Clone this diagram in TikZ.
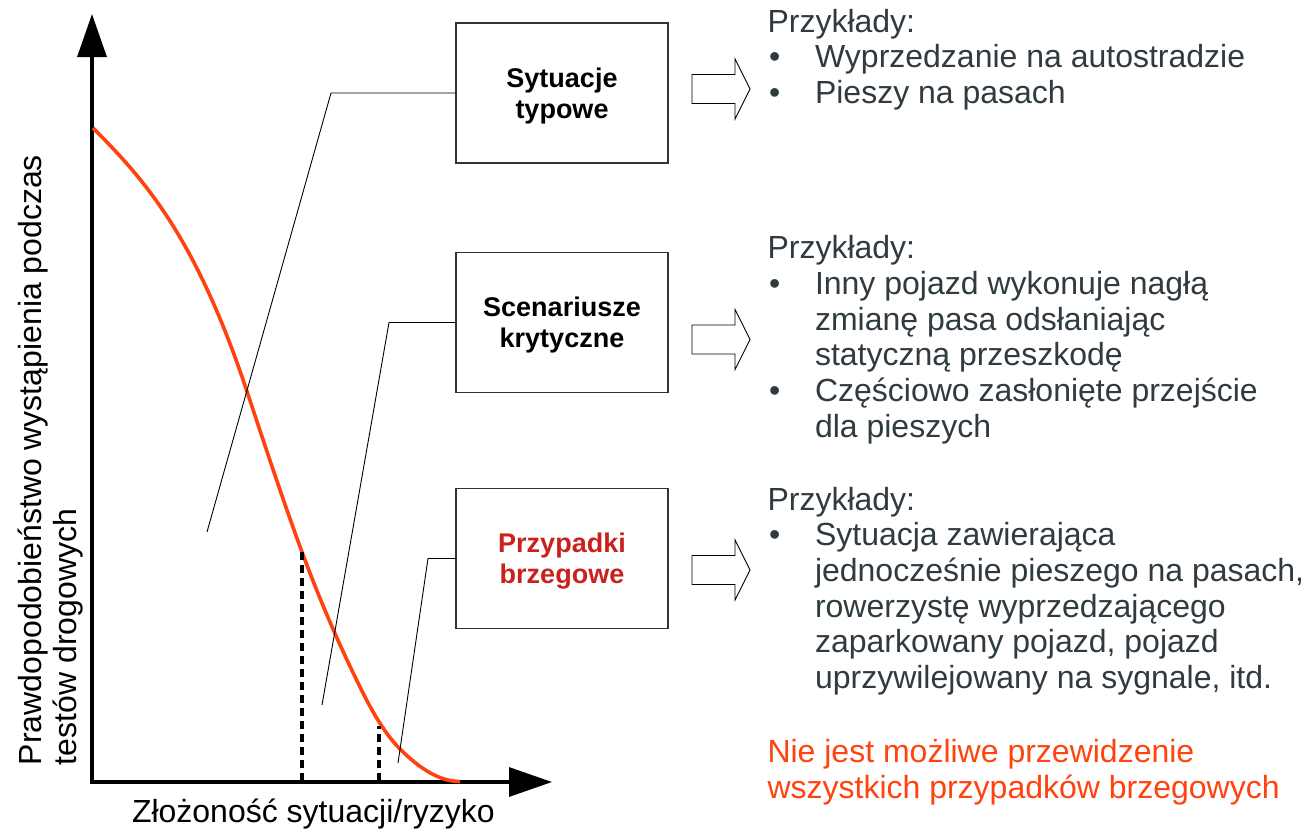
\documentclass[tikz,border=0pt]{standalone}
\usepackage{fontspec}
\setmainfont{Liberation Sans}
\usetikzlibrary{arrows.meta}
\definecolor{txt}{HTML}{2F3B40}
\definecolor{hot}{HTML}{FF420E}
\definecolor{darkred}{HTML}{C9211E}
\definecolor{frame}{HTML}{333333}
\begin{document}
\begin{tikzpicture}[x=1pt,y=-1pt,
  every node/.style={inner sep=0pt,outer sep=0pt},
  axisline/.style={line width=3.2pt,line join=miter,
    {Triangle[length=43pt,width=29pt]}-{Triangle[length=43pt,width=29pt]}},
  riskcurve/.style={hot,line width=3.6pt,line join=round},
  guide/.style={line width=3.3pt,dash pattern=on 8pt off 5pt},
  leader/.style={line width=0.9pt},
  catbox/.style={draw=frame,line width=1.2pt,minimum width=212pt,minimum height=140pt},
  catlabel/.style={align=center,font=\fontsize{27}{31}\selectfont\bfseries},
  body/.style={anchor=base west,text=txt,font=\fontsize{32}{36}\selectfont},
  warn/.style={anchor=base west,text=hot,font=\fontsize{32}{36}\selectfont},
  axlabel/.style={anchor=base west,font=\fontsize{32}{36}\selectfont},
  blockarrow/.pic={\draw[line width=0.9pt,fill=white]
    (0,-14.5) -- (43,-14.5) -- (43,-30) -- (58,0) -- (43,30) -- (43,14.5) -- (0,14.5) -- cycle;}
]
\useasboundingbox (0,0) rectangle (1308,831);

% axes
\coordinate (ytop) at (92,14);
\coordinate (orig) at (92,782);
\coordinate (xend) at (552,782);
\draw[axisline] (ytop) -- (orig) -- (xend);

% axis labels
\node[axlabel] (xlab) at (132,822) {Złożoność sytuacji/ryzyko};
\node[axlabel,rotate=90] (ylab1) at (41,765) {Prawdopodobieństwo wystąpienia podczas};
\node[axlabel,rotate=90] (ylab2) at (76,765) {testów drogowych};

% probability curve, piecewise cubic
\draw[riskcurve] (93,128)
  .. controls (144.17,179.17) and (195.33,236.5) .. (246.5,390)
  .. controls (265,445.5) and (283.5,502.05) .. (302,552)
  .. controls (322.33,606.9) and (342.67,652.33) .. (363,693)
  .. controls (375.33,717.67) and (387.67,736.67) .. (400,749)
  .. controls (420,769) and (440,781.5) .. (460,781.5);

% thresholds
\coordinate (g1top) at (302,552);
\coordinate (g1bot) at (302,781);
\coordinate (g2top) at (379,726);
\coordinate (g2bot) at (379,781);
\draw[guide] (g1bot) -- (g1top);
\draw[guide] (g2bot) -- (g2top);

% categories
\node[catbox] (b1) at (562,93) {};
\node[catbox] (b2) at (562,322.5) {};
\node[catbox] (b3) at (562,558.5) {};
\node[catlabel] (b1t) at ([yshift=-3pt]b1.center) {Sytuacje\\typowe};
\node[catlabel] (b2t) at ([yshift=-3pt]b2.center) {Scenariusze\\krytyczne};
\node[catlabel,text=darkred] (b3t) at ([yshift=-3pt]b3.center) {Przypadki\\brzegowe};

% leaders from the boxes into the chart
\coordinate (k1) at (331,93);    \coordinate (e1) at (207,532);
\coordinate (k2) at (389,322.5); \coordinate (e2) at (322,705);
\coordinate (k3) at (428,558.5); \coordinate (e3) at (398,763);
\draw[leader] (b1.west) -- (k1) -- (e1);
\draw[leader] (b2.west) -- (k2) -- (e2);
\draw[leader] (b3.west) -- (k3) -- (e3);

% block arrows
\pic at (692,89) {blockarrow};
\pic at (692,339.5) {blockarrow};
\pic at (692,570) {blockarrow};

% examples: typical situations
\node[body] (h1) at (767.5,32) {Przykłady:};
\node[body] (h1a) at (769,67) {•};
\node[body] (h1at) at (815,67) {Wyprzedzanie na autostradzie};
\node[body] (h1b) at (769,103) {•};
\node[body] (h1bt) at (815,103) {Pieszy na pasach};

% examples: critical scenarios
\node[body] (h2) at (767.5,258) {Przykłady:};
\node[body] (h2a) at (769,294) {•};
\node[body] (h2at) at (815,294) {Inny pojazd wykonuje nagłą};
\node[body] (h2a2) at (815,330) {zmianę pasa odsłaniając};
\node[body] (h2a3) at (815,365.5) {statyczną przeszkodę};
\node[body] (h2b) at (769,401) {•};
\node[body] (h2bt) at (815,401) {Częściowo zasłonięte przejście};
\node[body] (h2b2) at (815,437) {dla pieszych};

% examples: corner cases
\node[body] (h3) at (767.5,510) {Przykłady:};
\node[body] (h3a) at (769,545.5) {•};
\node[body] (h3at) at (815,545.5) {Sytuacja zawierająca};
\node[body] (h3a2) at (815,581) {jednocześnie pieszego na pasach,};
\node[body] (h3a3) at (815,617) {rowerzystę wyprzedzającego};
\node[body] (h3a4) at (815,652.5) {zaparkowany pojazd, pojazd};
\node[body] (h3a5) at (815,688) {uprzywilejowany na sygnale, itd.};
\node[warn] (w1) at (767.5,762) {Nie jest możliwe przewidzenie};
\node[warn] (w2) at (767.5,798) {wszystkich przypadków brzegowych};
\end{tikzpicture}
\end{document}
